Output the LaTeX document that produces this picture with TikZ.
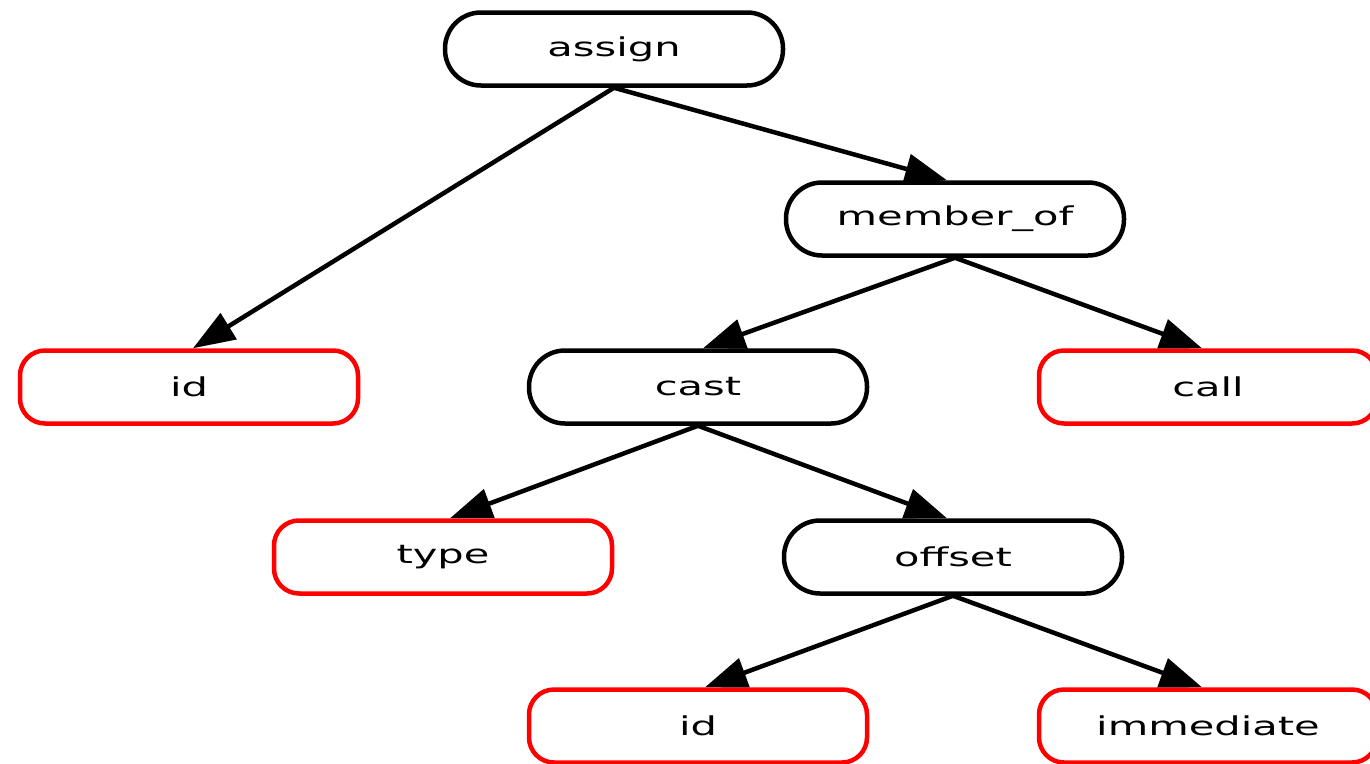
\documentclass[tikz,border=0pt]{standalone}
\usepackage{fontspec}
\usetikzlibrary{arrows.meta}
\newfontfamily\lblfont[FakeStretch=1.6]{DejaVu Sans}
\begin{document}
\begin{tikzpicture}[x=1pt,y={(0pt,-1pt)},
  base/.style={draw, line width=4.5pt, minimum width=338pt, minimum height=73pt,
    inner sep=0pt, fill=white, font=\lblfont\fontsize{26}{28}\selectfont},
  inner/.style={base, rounded corners=36pt, draw=black},
  leaf/.style={base, rounded corners=25pt, draw=red},
  edge/.style={line width=4.5pt, -{Triangle[length=42pt,width=30pt]}}]
  \useasboundingbox (0,0) rectangle (1370,763);

  % tree nodes
  \node[inner] (assign)   at (614,49)  {assign};
  \node[inner] (memberof) at (955,219) {member\_of};
  \node[leaf]  (id)       at (189,387) {id};
  \node[inner] (cast)     at (698,387) {cast};
  \node[leaf]  (call)     at (1208,387) {call};
  \node[leaf]  (type)     at (443,557) {type};
  \node[inner] (offset)   at (953,557) {offset};
  \node[leaf]  (idb)      at (698,726) {id};
  \node[leaf]  (imm)      at (1208,726) {immediate};

  % edges
  \draw[edge] (assign.south)   -- ([xshift=4pt]id.north);
  \draw[edge] (assign.south)   -- ([xshift=-8pt]memberof.north);
  \draw[edge] (memberof.south) -- ([xshift=5pt]cast.north);
  \draw[edge] (memberof.south) -- ([xshift=-6pt]call.north);
  \draw[edge] (cast.south)     -- ([xshift=7pt]type.north);
  \draw[edge] (cast.south)     -- ([xshift=-6pt]offset.north);
  \draw[edge] (offset.south)   -- ([xshift=7pt]idb.north);
  \draw[edge] (offset.south)   -- ([xshift=-6pt]imm.north);
\end{tikzpicture}
\end{document}
